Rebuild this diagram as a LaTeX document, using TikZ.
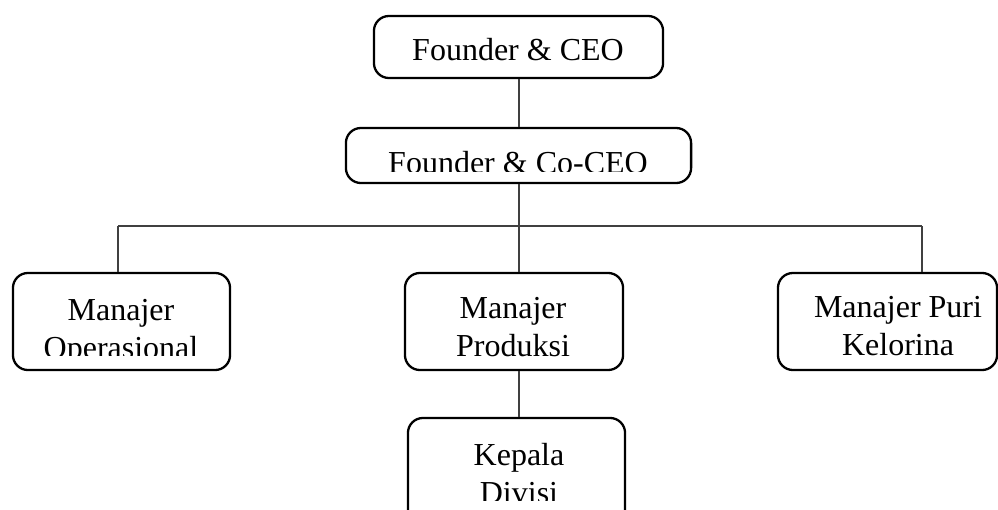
\documentclass[tikz,border=0pt]{standalone}
\usepackage{fontspec}
\setmainfont{Liberation Serif}
\begin{document}
\begin{tikzpicture}[x=0.01cm,y=-0.01cm,
  orgbox/.style={draw=black,line width=0.65pt,rounded corners=0.15cm,inner sep=0pt,fill=white},
  link/.style={draw=black!75,line width=0.35pt},
  lbl/.style={inner sep=0pt,align=center,font=\fontsize{9.1}{10.8}\selectfont,anchor=base}]
\clip (0,0) rectangle (998,509);
\fill[white] (0,0) rectangle (998,509);
% boxes
\node[orgbox,minimum width=2.89cm,minimum height=0.62cm] (ceo) at (518.5,47) {};
\node[orgbox,minimum width=3.45cm,minimum height=0.55cm] (coceo) at (518.5,155.5) {};
\node[orgbox,minimum width=2.17cm,minimum height=0.97cm] (ops) at (121.5,321.5) {};
\node[orgbox,minimum width=2.18cm,minimum height=0.97cm] (prod) at (514,321.5) {};
\node[orgbox,minimum width=2.19cm,minimum height=0.97cm] (puri) at (887.5,321.5) {};
\node[orgbox,minimum width=2.17cm,minimum height=1.10cm] (kep) at (516.5,473) {};
% connectors
\coordinate (busL) at (118,226);
\coordinate (busR) at (922,226);
\draw[link] (519,0|-ceo.south) -- (519,0|-coceo.north);
\draw[link] (519,0|-coceo.south) -- (519,0|-prod.north);
\draw[link] (busL) -- (busR);
\draw[link] (busL) -- (118,0|-ops.north);
\draw[link] (busR) -- (922,0|-puri.north);
\draw[link] (519,0|-prod.south) -- (519,0|-kep.north);
% texts
\node[lbl] (tceo) at (518,60) {Founder \& CEO};
\begin{scope}
\clip (346,128) rectangle (691,171);
\node[lbl] (tcoceo) at (518,173) {Founder \& Co-CEO};
\end{scope}
\begin{scope}
\clip (13,273) rectangle (230,355);
\node[lbl] (tops) at (121,358) {Manajer\\Operasional};
\end{scope}
\node[lbl] (tprod) at (513,356) {Manajer\\Produksi};
\node[lbl] (tpuri) at (898,355) {Manajer Puri\\Kelorina};
\begin{scope}
\clip (408,418) rectangle (625,500);
\node[lbl] (tkep) at (519,503) {Kepala\\Divisi};
\end{scope}
\end{tikzpicture}
\end{document}
